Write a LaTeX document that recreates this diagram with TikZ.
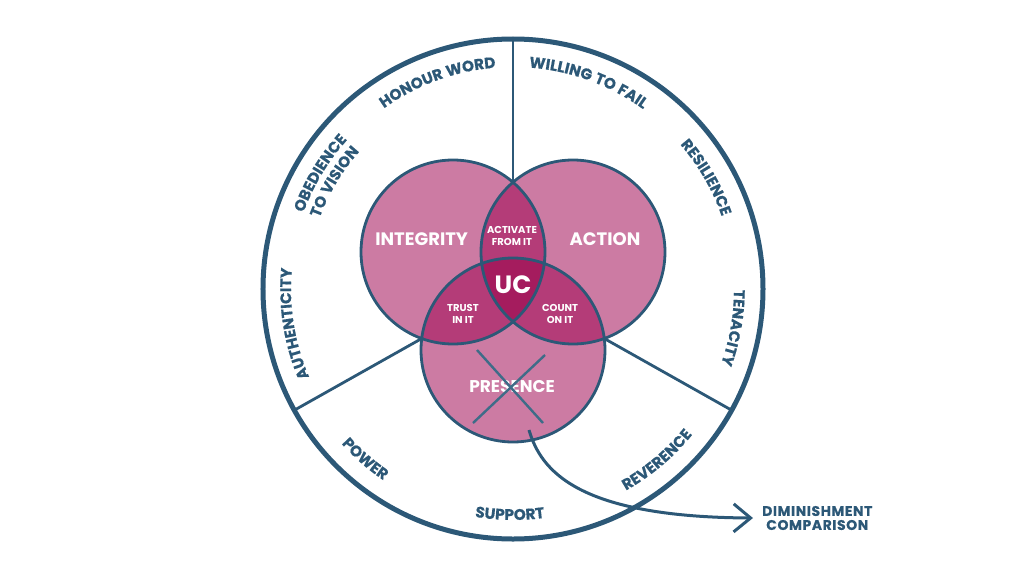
\documentclass[tikz,border=0pt]{standalone}
\usepackage{fontspec}
\usetikzlibrary{decorations.text,arrows.meta}
\newfontfamily\pop{Poppins}
\newfontfamily\popsp{Poppins}[LetterSpace=4,FakeBold=0.4]
\definecolor{ublue}{HTML}{2C5877}
\definecolor{xblue}{HTML}{3E6C88}
\definecolor{pinkL}{HTML}{CC7BA3}
\definecolor{pinkM}{HTML}{B43C78}
\definecolor{pinkD}{HTML}{A51C5E}
\newcommand\olab{\popsp\bfseries\fontsize{15.3}{15.3}\selectfont}
\tikzset{
  venn/.style={draw=ublue, line width=2.8pt},
  divider/.style={draw=ublue, line width=2.8pt},
  rim/.style={draw=ublue, line width=5pt},
  bigl/.style={text=white, font=\pop\bfseries\fontsize{18}{18}\selectfont, inner sep=0pt},
  smalll/.style={text=white, font=\pop\bfseries\fontsize{10}{11.5}\selectfont, align=center, inner sep=0pt},
  outerlab/.style={decorate, decoration={text along path, text align=center, text color=ublue}},
  crossline/.style={draw=xblue, line width=2.4pt},
  arr/.style={draw=ublue, line width=3pt, -{Straight Barb[length=17pt,width=28pt]}},
}
\begin{document}
\begin{tikzpicture}[x=1pt,y=1pt]
\useasboundingbox (-513,-287) rectangle (511,289);
% outer rim
\coordinate (o) at (0,0);
\draw[rim] (o) circle (250pt);
% Venn circles
\coordinate (ci) at (-60,37);
\coordinate (ca) at (60,37);
\coordinate (cp) at (0,-61);
\fill[pinkL] (ci) circle (92pt) (ca) circle (92pt) (cp) circle (92pt);
\begin{scope}
  \clip (ci) circle (92pt);
  \fill[pinkM] (ca) circle (92pt);
  \fill[pinkM] (cp) circle (92pt);
\end{scope}
\begin{scope}
  \clip (ca) circle (92pt);
  \fill[pinkM] (cp) circle (92pt);
\end{scope}
\begin{scope}
  \clip (ci) circle (92pt);
  \clip (ca) circle (92pt);
  \fill[pinkD] (cp) circle (92pt);
\end{scope}
\draw[venn] (ci) circle (92pt) (ca) circle (92pt) (cp) circle (92pt);
% dividers
\coordinate (topx) at (0,106.74);
\coordinate (leftx) at (-91.28,-49.52);
\coordinate (rightx) at (91.28,-49.52);
\coordinate (rimtop) at (90:250);
\coordinate (rimleft) at (209:250);
\coordinate (rimright) at (-29:250);
\draw[divider] (rimtop) -- (topx);
\draw[divider] (leftx) -- (rimleft);
\draw[divider] (rightx) -- (rimright);
% Venn labels
\node[bigl] (integrity) at (-91.3,49.7) {INTEGRITY};
\node[bigl] (action) at (92,49.7) {ACTION};
\node[smalll] (activate) at (-1,53) {ACTIVATE\\FROM IT};
\node[text=white, font=\pop\bfseries\fontsize{25}{25}\selectfont, inner sep=0pt] (uc) at (0,4) {UC};
\node[smalll] (trust) at (-50,-25) {TRUST\\IN IT};
\node[smalll] (count) at (47,-25) {COUNT\\ON IT};
\node[bigl, font=\pop\bfseries\fontsize{17}{17}\selectfont] (presence) at (-1,-97.7) {PRESENCE};
% cross over presence
\coordinate (xa1) at (-36,-61);
\coordinate (xa2) at (30,-134);
\coordinate (xb1) at (32,-66);
\coordinate (xb2) at (-40,-134);
\draw[crossline] (xa1) -- (xa2);
\draw[crossline] (xb1) -- (xb2);
% outer labels (tops outward)
\path[outerlab, decoration={text={|\olab|HONOUR WORD}}] (140:222) arc[start angle=140, end angle=80, radius=222pt];
\path[outerlab, decoration={text={|\olab|WILLING TO FAIL}}] (100:222) arc[start angle=100, end angle=40, radius=222pt];
\path[outerlab, decoration={text={|\olab|RESILIENCE}}] (55:221) arc[start angle=55, end angle=5, radius=221pt];
\path[outerlab, decoration={text={|\olab|TENACITY}}] (15:221) arc[start angle=15, end angle=-35, radius=221pt];
\path[outerlab, decoration={text={|\olab|AUTHENTICITY}}] (215:222) arc[start angle=215, end angle=163, radius=222pt];
\path[outerlab, decoration={text={|\olab|OBEDIENCE}}] (175:223) arc[start angle=175, end angle=123, radius=223pt];
\path[outerlab, decoration={text={|\olab|TO VISION}}] (175:206) arc[start angle=175, end angle=123, radius=206pt];
% outer labels (tops inward)
\path[outerlab, decoration={text={|\olab|POWER}}] (-155:231) arc[start angle=-155, end angle=-107, radius=231pt];
\path[outerlab, decoration={text={|\olab|SUPPORT}}] (-120:231) arc[start angle=-120, end angle=-61.6, radius=231pt];
\path[outerlab, decoration={text={|\olab|REVERENCE}}] (-78:231) arc[start angle=-78, end angle=-21.8, radius=231pt];
% arrow to diminishment
\node[text=ublue, font=\popsp\bfseries\fontsize{14}{14}\selectfont, align=center, inner sep=0pt, anchor=west] (dim) at (249,-229) {DIMINISHMENT\\COMPARISON};
\coordinate (pstart) at (16,-141);
\draw[arr] (pstart) .. controls (28,-182) and (65,-228) .. ([xshift=-9pt]dim.west);
\end{tikzpicture}
\end{document}
